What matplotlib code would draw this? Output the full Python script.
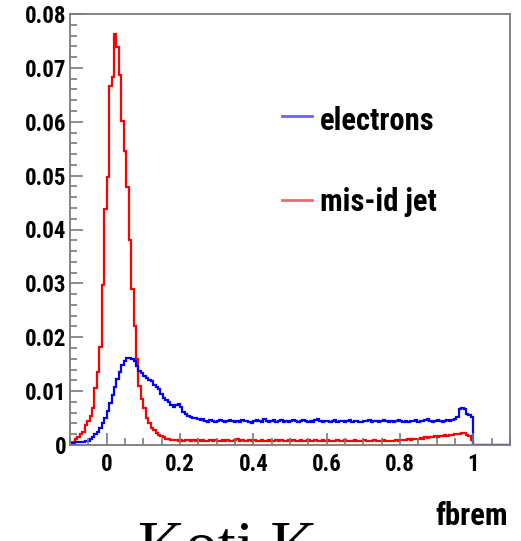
import numpy as np
import matplotlib
matplotlib.use('Agg')
from matplotlib import pyplot as plt
from matplotlib import font_manager
from matplotlib.ticker import MultipleLocator, FixedLocator

# Histogramm-Inhalte (180 Bins von -0.1 bis 1.1)
x_min, x_max, n_bins = -0.1, 1.1, 180

mis_id_jet = [
    0.0006, 0.0006, 0.0012, 0.0015, 0.0020, 0.0024, 0.0037, 0.0045, 0.0053, 0.0069,
    0.0106, 0.0136, 0.0182, 0.0297, 0.0438, 0.0498, 0.0666, 0.0683, 0.0763, 0.0739,
    0.0687, 0.0602, 0.0546, 0.0479, 0.0380, 0.0290, 0.0220, 0.0160, 0.0110, 0.0085,
    0.0068, 0.0050, 0.0040, 0.0032, 0.0027, 0.0022, 0.0019, 0.0016, 0.0014, 0.0012,
    0.0011, 0.0010, 0.0009, 0.0010, 0.0008, 0.0009, 0.0008, 0.0010, 0.0009, 0.0008,
    0.0009, 0.0007, 0.0009, 0.0008, 0.0010, 0.0008, 0.0007, 0.0009, 0.0008, 0.0009,
    0.0007, 0.0008, 0.0010, 0.0008, 0.0009, 0.0007, 0.0008, 0.0009, 0.0011, 0.0008,
    0.0009, 0.0007, 0.0008, 0.0009, 0.0008, 0.0010, 0.0008, 0.0007, 0.0009, 0.0008,
    0.0008, 0.0009, 0.0007, 0.0008, 0.0010, 0.0008, 0.0009, 0.0007, 0.0008, 0.0009,
    0.0008, 0.0010, 0.0008, 0.0007, 0.0009, 0.0008, 0.0008, 0.0009, 0.0007, 0.0008,
    0.0009, 0.0008, 0.0007, 0.0009, 0.0008, 0.0010, 0.0008, 0.0007, 0.0008, 0.0009,
    0.0008, 0.0007, 0.0009, 0.0008, 0.0008, 0.0007, 0.0009, 0.0008, 0.0007, 0.0008,
    0.0009, 0.0008, 0.0007, 0.0008, 0.0009, 0.0008, 0.0007, 0.0008, 0.0009, 0.0008,
    0.0007, 0.0008, 0.0008, 0.0009, 0.0008, 0.0009, 0.0010, 0.0009, 0.0011, 0.0010,
    0.0011, 0.0012, 0.0011, 0.0013, 0.0012, 0.0014, 0.0013, 0.0015, 0.0014, 0.0016,
    0.0015, 0.0017, 0.0016, 0.0018, 0.0017, 0.0019, 0.0018, 0.0020, 0.0021, 0.0020,
    0.0023, 0.0022, 0.0019, 0.0016, 0.0010, 0.0, 0.0, 0.0, 0.0, 0.0,
    0.0, 0.0, 0.0, 0.0, 0.0, 0.0, 0.0, 0.0, 0.0, 0.0,
]

electrons = [
    0.0004, 0.0004, 0.0005, 0.0005, 0.0005, 0.0006, 0.0007, 0.0008, 0.0011, 0.0015,
    0.0020, 0.0025, 0.0032, 0.0040, 0.0050, 0.0063, 0.0078, 0.0093, 0.0108, 0.0122,
    0.0135, 0.0148, 0.0156, 0.0161, 0.0162, 0.0159, 0.0155, 0.0147, 0.0138, 0.0133,
    0.0129, 0.0125, 0.0121, 0.0118, 0.0112, 0.0108, 0.0104, 0.0095, 0.0088, 0.0083,
    0.0080, 0.0075, 0.0070, 0.0074, 0.0076, 0.0070, 0.0062, 0.0057, 0.0053, 0.0052,
    0.0050, 0.0051, 0.0048, 0.0047, 0.0048, 0.0045, 0.0043, 0.0046, 0.0044, 0.0042,
    0.0045, 0.0047, 0.0044, 0.0043, 0.0045, 0.0046, 0.0044, 0.0042, 0.0045, 0.0043,
    0.0046, 0.0044, 0.0045, 0.0043, 0.0041, 0.0044, 0.0046, 0.0045, 0.0043, 0.0049,
    0.0044, 0.0042, 0.0045, 0.0047, 0.0043, 0.0044, 0.0046, 0.0043, 0.0045, 0.0042,
    0.0044, 0.0046, 0.0045, 0.0043, 0.0044, 0.0047, 0.0044, 0.0042, 0.0045, 0.0043,
    0.0046, 0.0048, 0.0044, 0.0043, 0.0045, 0.0044, 0.0042, 0.0045, 0.0047, 0.0043,
    0.0044, 0.0045, 0.0042, 0.0044, 0.0046, 0.0043, 0.0045, 0.0044, 0.0042, 0.0043,
    0.0045, 0.0044, 0.0046, 0.0043, 0.0044, 0.0045, 0.0043, 0.0044, 0.0046, 0.0044,
    0.0042, 0.0045, 0.0043, 0.0044, 0.0046, 0.0045, 0.0043, 0.0044, 0.0042, 0.0045,
    0.0044, 0.0046, 0.0043, 0.0045, 0.0044, 0.0046, 0.0048, 0.0045, 0.0043, 0.0044,
    0.0046, 0.0044, 0.0042, 0.0045, 0.0047, 0.0044, 0.0046, 0.0048, 0.0052, 0.0066,
    0.0068, 0.0066, 0.0057, 0.0056, 0.0052, 0.0, 0.0, 0.0, 0.0, 0.0,
    0.0, 0.0, 0.0, 0.0, 0.0, 0.0, 0.0, 0.0, 0.0, 0.0,
]

x_ticks = [0, 0.2, 0.4, 0.6, 0.8, 1]
x_tick_labels = ['0', '0.2', '0.4', '0.6', '0.8', '1']
y_ticks = [0, 0.01, 0.02, 0.03, 0.04, 0.05, 0.06, 0.07, 0.08]
y_tick_labels = ['0', '0.01', '0.02', '0.03', '0.04', '0.05', '0.06', '0.07', '0.08']

# Schrift (ROOT-Stil: fett, schmal) - erste vorhandene schmale Schrift nehmen
vorhanden = {f.name for f in font_manager.fontManager.ttflist}
schmal = [n for n in ['Roboto Condensed', 'Liberation Sans Narrow', 'Open Sans Condensed',
                      'DejaVu Sans Condensed'] if n in vorhanden]
if schmal:
    schrift = schmal[0]
    gr_tick, gr_text = 16.5, 22
else:
    schrift = 'Liberation Sans'
    gr_tick, gr_text = 15, 20
plt.rcParams['font.family'] = [schrift, 'DejaVu Sans']
plt.rcParams['font.weight'] = 'bold'

W, H = 521, 541
fig = plt.figure(figsize=(W / 100, H / 100), dpi=100)
ax = fig.add_axes([70 / W, 1 - 445 / H, 440 / W, 431 / H])

kanten = np.linspace(x_min, x_max, n_bins + 1)
ax.stairs(mis_id_jet, kanten, color='#ff0000', linewidth=1.6)
ax.stairs(electrons, kanten, color='#0000ff', linewidth=1.6)

ax.set_xlim(x_min, x_max)
ax.set_ylim(0, 0.08)

# Achsen / Ticks wie ROOT
rahmen = '#7a7a7a'
for s in ax.spines.values():
    s.set_color(rahmen)
    s.set_linewidth(1.3)

ax.xaxis.set_major_locator(FixedLocator(x_ticks))
ax.set_xticklabels(x_tick_labels)
ax.xaxis.set_minor_locator(MultipleLocator(0.05))
ax.yaxis.set_major_locator(FixedLocator(y_ticks))
ax.set_yticklabels(y_tick_labels)
ax.yaxis.set_minor_locator(MultipleLocator(0.002))

ax.tick_params(which='both', direction='in', color=rahmen, width=1.2,
               top=False, right=False)
ax.tick_params(which='major', length=9)
ax.tick_params(which='minor', length=4.8)
ax.tick_params(axis='x', which='major', labelsize=gr_tick, pad=5.5)
ax.tick_params(axis='y', which='major', labelsize=gr_tick, pad=2.4)
for lab in ax.get_xticklabels() + ax.get_yticklabels():
    lab.set_fontweight('bold')

# Legende von Hand (ohne Rahmen)
ax.plot([(282 - 70) / 440, (312 - 70) / 440], [(445 - 116) / 431] * 2,
        transform=ax.transAxes, color='#6464ff', linewidth=2)
ax.plot([(282 - 70) / 440, (312 - 70) / 440], [(445 - 200) / 431] * 2,
        transform=ax.transAxes, color='#ff6464', linewidth=2)
fig.text(320 / W, 1 - 121 / H, 'electrons', fontsize=gr_text, fontweight='bold',
         ha='left', va='center')
fig.text(320 / W, 1 - 202 / H, 'mis-id jet', fontsize=gr_text, fontweight='bold',
         ha='left', va='center')

# Achsentitel
fig.text(508 / W, 1 - 516 / H, 'fbrem', fontsize=gr_text, fontweight='bold',
         ha='right', va='center')

# abgeschnittener Text unten
fig.text(317 / W, 1 - 565 / H, 'Koti K', family='Liberation Serif',
         fontsize=47, fontweight='normal', ha='right', va='baseline')

fig.savefig('out.png', dpi=100)
plt.close(fig)
